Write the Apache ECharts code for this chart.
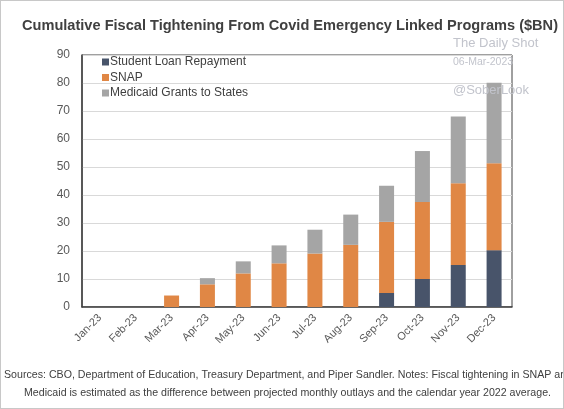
<!DOCTYPE html>
<html><head><meta charset="utf-8">
<script src="https://cdn.jsdelivr.net/npm/echarts@6/dist/echarts.min.js"></script>
<style>html,body{margin:0;padding:0;background:#fff}#c{width:564px;height:409px;box-sizing:border-box;border:1px solid #c8c8c8}</style>
</head><body><div id="c"></div>
<script>
const categories = ['Jan-23','Feb-23','Mar-23','Apr-23','May-23','Jun-23','Jul-23','Aug-23','Sep-23','Oct-23','Nov-23','Dec-23'];
const studentLoan = [0,0,0,0,0,0,0,0,5,10,15,20.3];
const snap = [0,0,4.1,8.1,12,15.6,19.1,22.2,25.4,27.5,29.2,31];
const medicaid = [0,0,0,2.2,4.3,6.4,8.5,10.8,12.9,18.2,23.8,28.8];
const yTicks = {min:0, max:90, interval:10};
const titleText = 'Cumulative Fiscal Tightening From Covid Emergency Linked Programs ($BN)';
const note1 = 'Sources: CBO, Department of Education, Treasury Department, and Piper Sandler. Notes: Fiscal tightening in SNAP and';
const note2 = 'Medicaid is estimated as the difference between projected monthly outlays and the calendar year 2022 average.';

const font = 'Liberation Sans, Arial, sans-serif';
const cv = document.createElement('canvas').getContext('2d');
function w(t, f){ cv.font = f; return cv.measureText(t).width; }
const titleFont = 'bold 15px ' + font;
const titleScale = 536 / w(titleText, titleFont);
const noteFont = '11.5px ' + font;
const noteScale = 527 / w(note2, noteFont);

const chart = echarts.init(document.getElementById('c'));
chart.setOption({
  animation:false,
  textStyle:{fontFamily:font},
  grid:{left:81,right:51,top:54,bottom:101,show:true,borderColor:'#404040',borderWidth:1},
  legend:{
    left:101, top:54, padding:0, orient:'vertical', itemWidth:7, itemHeight:7, itemGap:1.5, icon:'rect',
    textStyle:{fontSize:12,lineHeight:14,color:'#404040',fontFamily:font,padding:[0,0,0,-4]},
    data:['Student Loan Repayment','SNAP','Medicaid Grants to States']
  },
  xAxis:{type:'category',data:categories,
    axisLine:{lineStyle:{color:'#404040',width:1.5}},axisTick:{show:false},
    axisLabel:{rotate:45,fontSize:11,color:'#595959',margin:9,fontFamily:font}},
  yAxis:{type:'value',min:yTicks.min,max:yTicks.max,interval:yTicks.interval,
    axisLine:{show:true,lineStyle:{color:'#404040',width:1.5}},
    axisLabel:{fontSize:12,color:'#595959',margin:12,fontFamily:font},
    splitLine:{lineStyle:{color:'#d9d9d9'}}},
  series:[
    {name:'Student Loan Repayment',type:'bar',stack:'t',data:studentLoan,barWidth:15,itemStyle:{color:'#48546a'}},
    {name:'SNAP',type:'bar',stack:'t',data:snap,barWidth:15,itemStyle:{color:'#e08745'}},
    {name:'Medicaid Grants to States',type:'bar',stack:'t',data:medicaid,barWidth:15,itemStyle:{color:'#a5a5a5'}}
  ],
  graphic:[
    {type:'text',x:21,y:17,scaleX:titleScale,style:{text:titleText,font:titleFont,fill:'#404040'}},
    {type:'text',x:452,y:36,z:100,style:{text:'The Daily Shot',font:'13px '+font,fill:'#c2c4cc'}},
    {type:'text',x:452,y:56,z:100,style:{text:'06-Mar-2023',font:'10.5px '+font,fill:'#c2c4cc'}},
    {type:'text',x:452,y:83,z:100,style:{text:'@SoberLook',font:'13px '+font,fill:'#c2c4cc'}},
    {type:'text',x:3,y:368,scaleX:noteScale,style:{text:note1,font:noteFont,fill:'#404040'}},
    {type:'text',x:23,y:386,scaleX:noteScale,style:{text:note2,font:noteFont,fill:'#404040'}}
  ]
});
</script></body></html>
